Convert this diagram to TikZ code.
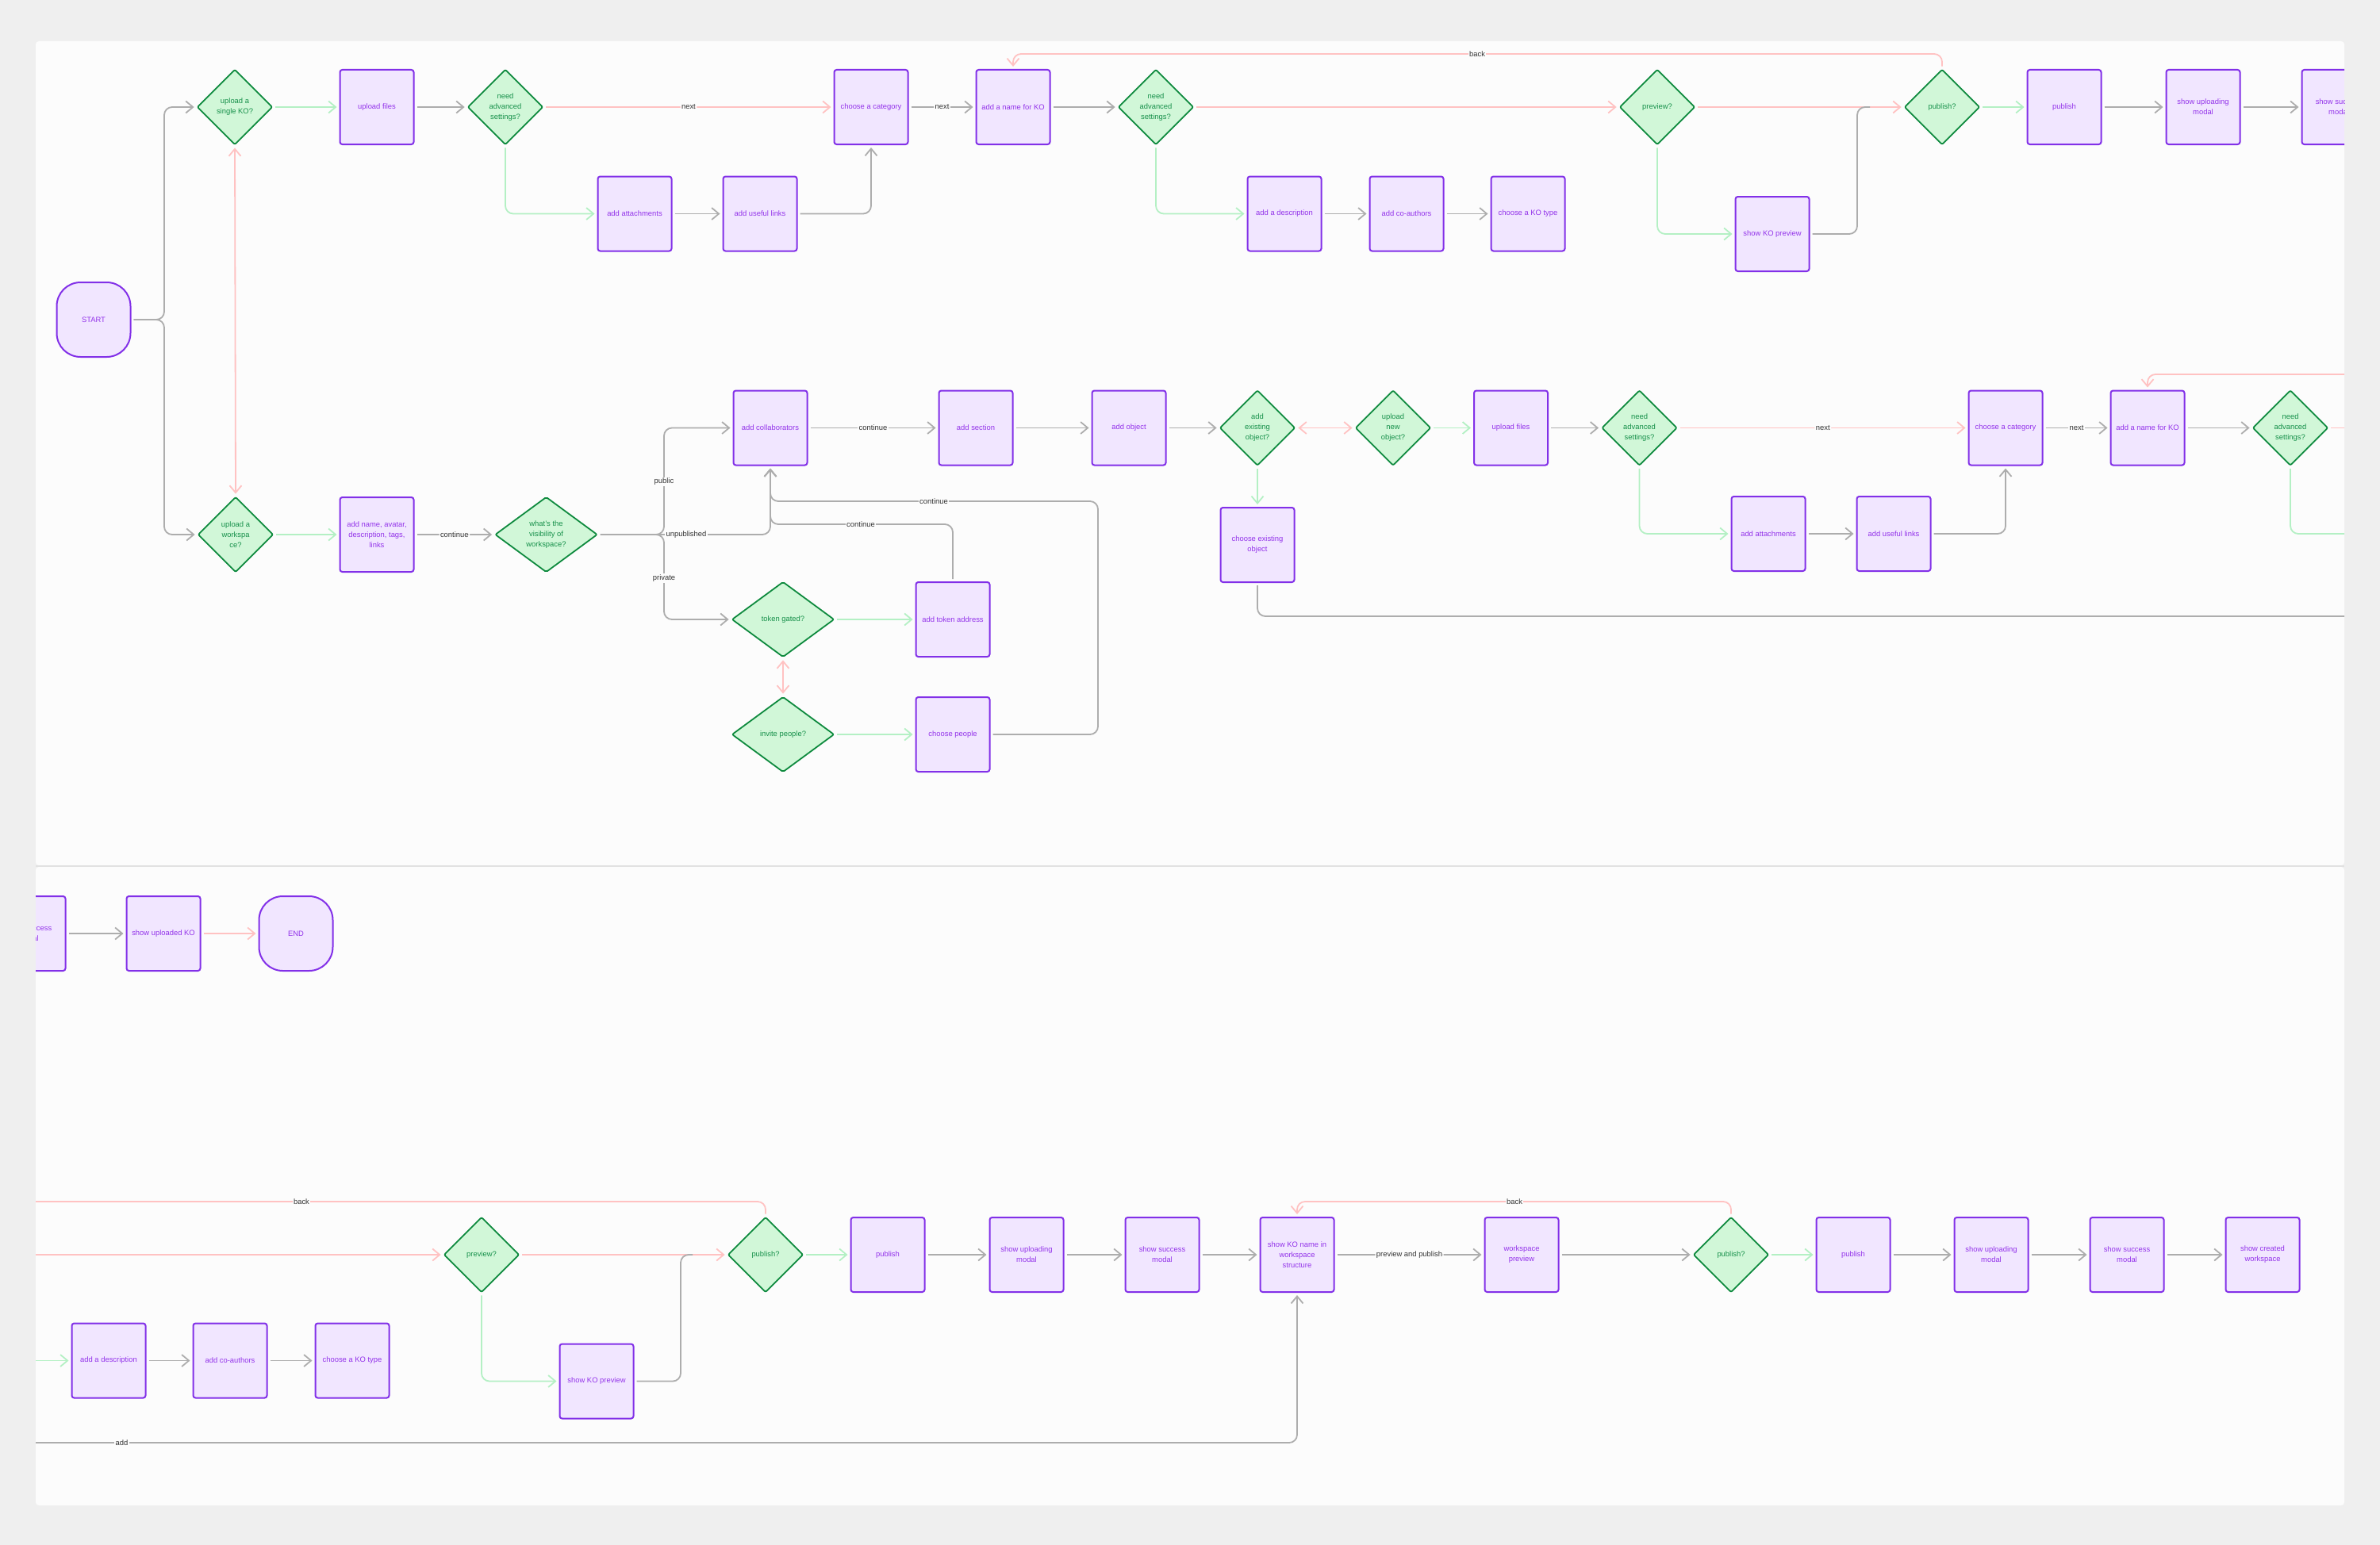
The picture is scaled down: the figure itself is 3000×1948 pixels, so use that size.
\documentclass[tikz,border=0pt]{standalone}
\usepackage{fontspec}
\setmainfont{Liberation Sans}
\usetikzlibrary{arrows.meta,shapes.geometric}
\definecolor{bgout}{HTML}{EFEFEF}
\definecolor{panel}{HTML}{FCFCFC}
\definecolor{divl}{HTML}{E2E2E2}
\definecolor{boxfill}{HTML}{F1E6FF}
\definecolor{boxline}{HTML}{8230E8}
\definecolor{boxtext}{HTML}{9333EA}
\definecolor{dfill}{HTML}{D1F7D8}
\definecolor{dline}{HTML}{0E8A3E}
\definecolor{dtext}{HTML}{16904A}
\definecolor{cgray}{HTML}{ADADAD}
\definecolor{cred}{HTML}{FFC2C2}
\definecolor{cgreen}{HTML}{B4F0C4}
\definecolor{ltext}{HTML}{333333}
\newcommand\dfont{\fontsize{9.4}{13}\selectfont}
\tikzset{
  box/.style={rectangle, rounded corners=3pt, draw=boxline, fill=boxfill, line width=2pt,
    minimum width=93pt, minimum height=94pt, text=boxtext, align=center, inner sep=2pt, font=\dfont},
  term/.style={box, rounded corners=30pt},
  dec/.style={diamond, rounded corners=2pt, draw=dline, fill=dfill, line width=1.8pt,
    minimum width=95pt, minimum height=95pt, text=dtext, align=center, inner sep=0pt, font=\dfont},
  wdec/.style={dec, minimum width=129pt},
  conn/.style={line width=1.8pt, rounded corners=10pt, shorten <=3pt, shorten >=3pt},
  tipb/.style={-{Straight Barb[length=9pt,width=15pt]}},
  dtip/.style={{Straight Barb[length=9pt,width=15pt]}-{Straight Barb[length=9pt,width=15pt]}},
  garr/.style={conn, draw=cgray, tipb},
  rarr/.style={conn, draw=cred, tipb},
  gnarr/.style={conn, draw=cgreen, tipb},
  gline/.style={conn, draw=cgray},
  rline/.style={conn, draw=cred},
  gnline/.style={conn, draw=cgreen},
  rdbl/.style={conn, draw=cred, dtip},
  lbl/.style={fill=panel, text=ltext, inner sep=1.5pt, font=\dfont},
}
\begin{document}
\begin{tikzpicture}[x=1pt,y=-1pt]
\useasboundingbox (0,0) rectangle (3000,1948);
\fill[bgout] (0,0) rectangle (3000,1948);
\fill[panel, rounded corners=4pt] (45,52) rectangle (2955,1091);
\fill[panel, rounded corners=4pt] (45,1093) rectangle (2955,1898);
\draw[divl, line width=1.5pt] (45,1092) -- (2955,1092);

% ================= TOP PANEL =================
\begin{scope}
\clip (45,52) rectangle (2955,1091);
% row 1
\node[term] (start) at (118,403) {START};
\node[dec] (d1) at (296,135) {upload a\\single KO?};
\node[box] (b1) at (475,135) {upload files};
\node[dec] (d2) at (637,135) {need\\advanced\\settings?};
\node[box] (b2) at (1098,135) {choose a category};
\node[box] (b3) at (1277,135) {add a name for KO};
\node[dec] (d3) at (1457,135) {need\\advanced\\settings?};
\node[dec] (d4) at (2089,135) {preview?};
\node[dec] (d5) at (2448,135) {publish?};
\node[box] (b4) at (2602,135) {publish};
\node[box] (b5) at (2777,135) {show uploading\\modal};
\node[box] (b6) at (2948,135) {show success\\modal};
\node[box] (b7) at (800,269.5) {add attachments};
\node[box] (b8) at (958,269.5) {add useful links};
\node[box] (b9) at (1619,269.5) {add a description};
\node[box] (b10) at (1773,269.5) {add co-authors};
\node[box] (b11) at (1926,269.5) {choose a KO type};
\node[box] (b12) at (2234,295) {show KO preview};
% row 2
\node[dec] (d6) at (297,674) {upload a\\workspa\\ce?};
\node[box] (b13) at (475,674) {add name, avatar,\\description, tags,\\links};
\node[wdec] (d7) at (688.5,674) {what's the\\visibility of\\workspace?};
\node[box] (b14) at (971,539.5) {add collaborators};
\node[box] (b15) at (1230,539.5) {add section};
\node[box] (b16) at (1423,539.5) {add object};
\node[dec] (d8) at (1585,539.5) {add\\existing\\object?};
\node[dec] (d9) at (1756,539.5) {upload\\new\\object?};
\node[box] (b17) at (1904.5,539.5) {upload files};
\node[dec] (d10) at (2066.5,539.5) {need\\advanced\\settings?};
\node[box] (b18) at (2528,539.5) {choose a category};
\node[box] (b19) at (2707,539.5) {add a name for KO};
\node[dec] (d11) at (2887,539.5) {need\\advanced\\settings?};
\node[box] (b20) at (1585,687) {choose existing\\object};
\node[box] (b21) at (2229,673) {add attachments};
\node[box] (b22) at (2387,673) {add useful links};
\node[wdec] (d12) at (987,781) {token gated?};
\node[wdec] (d13) at (987,926) {invite people?};
\node[box] (b23) at (1201,781) {add token address};
\node[box] (b24) at (1201,926) {choose people};

% connectors row 1
\draw[garr] (start.east) -- (207,403) -- (207,135) -- (d1.west);
\draw[garr] (start.east) -- (207,403) -- (207,674) -- (d6.west);
\draw[gnarr] (d1) -- (b1);
\draw[garr] (b1) -- (d2);
\draw[rarr] (d2) -- node[lbl] (l1) {next} (b2);
\draw[gnarr] (d2.south) |- (b7.west);
\draw[garr] (b7) -- (b8);
\draw[garr] (b8.east) -| (b2.south);
\draw[garr] (b2) -- node[lbl] (l2) {next} (b3);
\draw[garr] (b3) -- (d3);
\draw[rarr] (d3) -- (d4);
\draw[gnarr] (d3.south) |- (b9.west);
\draw[garr] (b9) -- (b10);
\draw[garr] (b10) -- (b11);
\draw[rarr] (d4) -- (d5);
\draw[gnarr] (d4.south) |- (b12.west);
\draw[gline] (b12.east) -- (2341,295) -- (2341,135) -- (2360,135);
\draw[rarr] (d5.north) -- (2448,68) -- (1277,68) -- (b3.north);
\node[lbl] (l3) at (1862,68) {back};
\draw[gnarr] (d5) -- (b4);
\draw[garr] (b4) -- (b5);
\draw[garr] (b5) -- (b6);
% connectors row 2
\draw[rdbl] (d6.north) -- (d1.south);
\draw[gnarr] (d6) -- (b13);
\draw[garr] (b13) -- node[lbl] (l4) {continue} (d7);
\draw[garr] (d7.east) -- (837,674) -- (837,539.5) -- (b14.west);
\draw[garr] (d7.east) -- (837,674) -- (837,781) -- (d12.west);
\draw[garr] (d7.east) -| (b14.south);
\draw[garr] (b23.north) -- (1201,661) -- (971,661) -- (b14.south);
\draw[garr] (b24.east) -- (1384,926) -- (1384,632) -- (971,632) -- (b14.south);
\node[lbl] (l5) at (837,607.5) {public};
\node[lbl] (l6) at (837,729) {private};
\node[lbl] (l7) at (865,674) {unpublished};
\node[lbl] (l8) at (1085,661) {continue};
\node[lbl] (l9) at (1177,632) {continue};
\draw[rdbl] (d12.south) -- (d13.north);
\draw[gnarr] (d12) -- (b23);
\draw[gnarr] (d13) -- (b24);
\draw[garr] (b14) -- node[lbl] (l10) {continue} (b15);
\draw[garr] (b15) -- (b16);
\draw[garr] (b16) -- (d8);
\draw[rdbl] (d8.east) -- (d9.west);
\draw[gnarr] (d9) -- (b17);
\draw[gnarr] (d8.south) -- (b20.north);
\draw[gline] (b20.south) -- (1585,777) -- (2975,777);
\draw[garr] (b17) -- (d10);
\draw[rarr] (d10) -- node[lbl] (l11) {next} (b18);
\draw[gnarr] (d10.south) |- (b21.west);
\draw[garr] (b21) -- (b22);
\draw[garr] (b22.east) -| (b18.south);
\draw[garr] (b18) -- node[lbl] (l12) {next} (b19);
\draw[garr] (b19) -- (d11);
\draw[rline] (d11.east) -- (2975,539.5);
\draw[gnline] (d11.south) -- (2887,673) -- (2975,673);
\draw[rarr] (2975,472) -- (2707,472) -- (b19.north);
\end{scope}

% ================= BOTTOM PANEL =================
\begin{scope}
\clip (45,1093) rectangle (2955,1898);
\node[box] (b25) at (36,1177) {show success\\modal};
\node[box] (b26) at (206,1177) {show uploaded KO};
\node[term] (endn) at (373,1177) {END};
\node[dec] (d14) at (607,1582) {preview?};
\node[dec] (d15) at (965,1582) {publish?};
\node[box] (b27) at (137,1715.5) {add a description};
\node[box] (b28) at (290,1715.5) {add co-authors};
\node[box] (b29) at (444,1715.5) {choose a KO type};
\node[box] (b30) at (752,1741.5) {show KO preview};
\node[box] (b31) at (1119,1582) {publish};
\node[box] (b32) at (1294,1582) {show uploading\\modal};
\node[box] (b33) at (1465,1582) {show success\\modal};
\node[box] (b34) at (1635,1582) {show KO name in\\workspace\\structure};
\node[box] (b35) at (1918,1582) {workspace\\preview};
\node[dec] (d16) at (2182,1582) {publish?};
\node[box] (b36) at (2336,1582) {publish};
\node[box] (b37) at (2510,1582) {show uploading\\modal};
\node[box] (b38) at (2681,1582) {show success\\modal};
\node[box] (b39) at (2852,1582) {show created\\workspace};

\draw[garr] (b25) -- (b26);
\draw[rarr] (b26) -- (endn);
\draw[rline] (d15.north) -- (965,1515) -- (25,1515);
\node[lbl] (l13) at (380,1515) {back};
\draw[rarr] (25,1582) -- (d14.west);
\draw[gnarr] (25,1715.5) -- (b27.west);
\draw[garr] (b27) -- (b28);
\draw[garr] (b28) -- (b29);
\draw[rarr] (d14) -- (d15);
\draw[gnarr] (d14.south) |- (b30.west);
\draw[gline] (b30.east) -- (858,1741.5) -- (858,1582) -- (876,1582);
\draw[gnarr] (d15) -- (b31);
\draw[garr] (b31) -- (b32);
\draw[garr] (b32) -- (b33);
\draw[garr] (b33) -- (b34);
\draw[garr] (25,1819) -- (1635,1819) -- (b34.south);
\node[lbl] (l14) at (153.5,1819) {add};
\draw[garr] (b34) -- node[lbl] (l15) {preview and publish} (b35);
\draw[garr] (b35) -- (d16);
\draw[rarr] (d16.north) -- (2182,1515) -- (1635,1515) -- (b34.north);
\node[lbl] (l16) at (1909,1515) {back};
\draw[gnarr] (d16) -- (b36);
\draw[garr] (b36) -- (b37);
\draw[garr] (b37) -- (b38);
\draw[garr] (b38) -- (b39);
\end{scope}
\end{tikzpicture}
\end{document}
